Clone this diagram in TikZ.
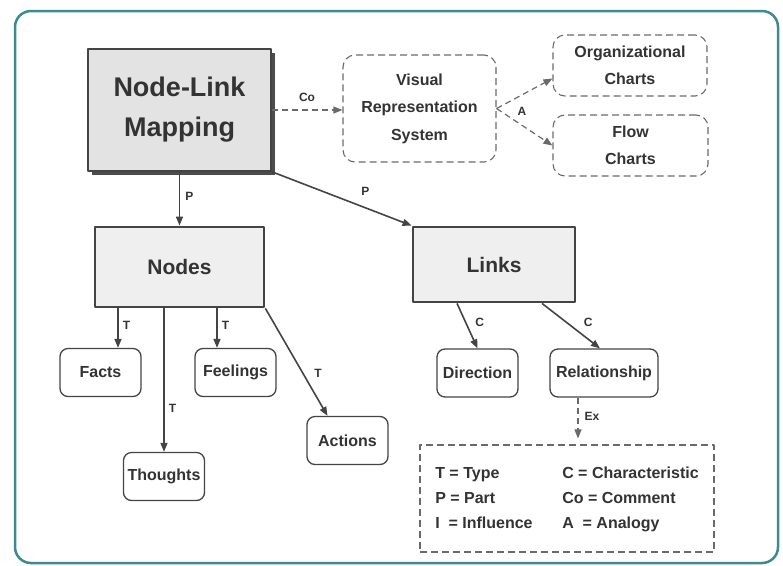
\documentclass[tikz,border=0pt]{standalone}
\usepackage{fontspec}
\setmainfont{Liberation Sans}
\usetikzlibrary{arrows.meta,shadows}

\definecolor{ink}{HTML}{333333}
\definecolor{wire}{HTML}{444444}
\definecolor{dashgray}{HTML}{6A6A6A}
\definecolor{frameteal}{HTML}{3E8A8C}
\definecolor{mapfill}{HTML}{E3E3E3}
\definecolor{partfill}{HTML}{EFEFEF}
\definecolor{shadowgray}{HTML}{4C4C4C}

\begin{document}
\begin{tikzpicture}[
  x=1pt, y=-1pt,
  line join=round,
  every node/.style={font=\bfseries, text=ink},
  mapbox/.style={draw=wire, line width=1.4pt, fill=mapfill,
    drop shadow={shadow xshift=3.5pt, shadow yshift=-3.5pt, fill=shadowgray, opacity=1},
    minimum width=183pt, minimum height=122pt, align=center,
    font=\bfseries\fontsize{27}{40}\selectfont},
  partbox/.style={draw=wire, line width=2.8pt, fill=partfill,
    font=\bfseries\fontsize{21}{24}\selectfont},
  leaf/.style={draw=wire, line width=1.3pt, rounded corners=8pt, fill=white,
    minimum width=81pt, minimum height=48pt, inner sep=1pt,
    font=\bfseries\fontsize{16}{18}\selectfont},
  idea/.style={draw=dashgray, line width=1.1pt, dash pattern=on 7pt off 4pt,
    rounded corners=12pt, align=center,
    font=\bfseries\fontsize{16}{27.5}\selectfont},
  link/.style={draw=wire, line width=1.6pt, -{Triangle[length=9pt,width=7pt]}},
  hint/.style={draw=dashgray, line width=1.2pt, dash pattern=on 6pt off 4pt,
    -{Triangle[length=9pt,width=7pt]}},
  lbl/.style={inner sep=1pt, font=\bfseries\fontsize{12}{14}\selectfont},
]
\useasboundingbox (0,0) rectangle (783,565);

% ── the frame round the whole map ─────────────────────────────────────────
\draw[frameteal, line width=2.5pt, rounded corners=16pt] (15,11) rectangle (778,563);

% ── top row: the concept and what it is compared with ─────────────────────
\node[mapbox] (nlm) at (179.5,110) {Node-Link\\Mapping};
\node[idea, minimum width=153pt, minimum height=107pt] (vrs) at (419.5,108.5)
  {Visual\\Representation\\System};
\node[idea, minimum width=154pt, minimum height=61pt] (orgcharts) at (630,65.5)
  {Organizational\\Charts};
\node[idea, minimum width=155pt, minimum height=61pt] (flowcharts) at (630.5,145.5)
  {Flow\\Charts};

\draw[hint] (nlm.east) -- node[lbl, above=7pt] (cocomment) {Co} (nlm.east -| vrs.west);
\draw[hint] (vrs.east) -- ([yshift=-13pt]orgcharts.west);
\draw[hint] (vrs.east) -- (flowcharts.west);
\node[lbl] (aanalogy) at (522,111) {A};

% ── the two parts ─────────────────────────────────────────────────────────
\node[partbox, minimum width=169pt, minimum height=80pt] (nodesbox) at (179.5,267) {Nodes};
\node[partbox, minimum width=162pt, minimum height=75pt] (linksbox) at (494,264.5) {Links};

\draw[link] (nlm.south) -- node[lbl, right=4pt, pos=.45] (pnodes) {P} (nodesbox.north);
\draw[link] (nlm.south east) -- node[lbl, above=11pt, pos=.67] (plinks) {P} (linksbox.north west);

% ── kinds of nodes ────────────────────────────────────────────────────────
\node[leaf] (facts)    at (100.5,372.5) {Facts};
\node[leaf] (feelings) at (235.5,372.5) {Feelings};
\node[leaf] (thoughts) at (164,476.5)   {Thoughts};
\node[leaf] (actions)  at (347.5,440.5) {Actions};

\draw[link] ([xshift=17.5pt]facts.north |- nodesbox.south)
  -- node[lbl, right=3pt, pos=.42] (tfacts) {T} ([xshift=17.5pt]facts.north);
\draw[link] (thoughts.north |- nodesbox.south)
  -- node[lbl, right=3pt, pos=.7] (tthoughts) {T} (thoughts.north);
\draw[link] ([xshift=-18.5pt]feelings.north |- nodesbox.south)
  -- node[lbl, right=3pt, pos=.42] (tfeelings) {T} ([xshift=-18.5pt]feelings.north);
\draw[link] (nodesbox.south east)
  -- node[lbl, right=10pt, pos=.6] (tactions) {T} ([xshift=-20pt]actions.north);

% ── what links carry ──────────────────────────────────────────────────────
\node[leaf] (direction) at (477.5,373) {Direction};
\node[leaf, minimum width=108pt] (relation) at (604,373) {Relationship};

\draw[link] ([xshift=-37pt]linksbox.south)
  -- node[lbl, right=8pt, pos=.42] (cdirection) {C} (direction.north);
\draw[link] ([xshift=48pt]linksbox.south)
  -- node[lbl, right=15pt, pos=.43] (crelation) {C} ([xshift=-4pt]relation.north);

% ── key to the link letters ───────────────────────────────────────────────
\node[draw=dashgray, line width=1.1pt, dash pattern=on 7pt off 4pt,
  minimum width=294pt, minimum height=107pt,
  font=\bfseries\fontsize{16}{25}\selectfont] (legend) at (567,498.5)
  {\begin{tabular}{@{}p{127pt}@{}l@{}}
    T = Type            & C = Characteristic \\
    P = Part            & Co = Comment \\
    I\ \ = Influence    & A\ \ = Analogy
  \end{tabular}};

\draw[hint, shorten >=6pt] ([xshift=-26pt]relation.south)
  -- node[lbl, right=5pt, pos=.4] (exexample) {Ex} ([xshift=-26pt]relation.south |- legend.north);

\end{tikzpicture}
\end{document}
